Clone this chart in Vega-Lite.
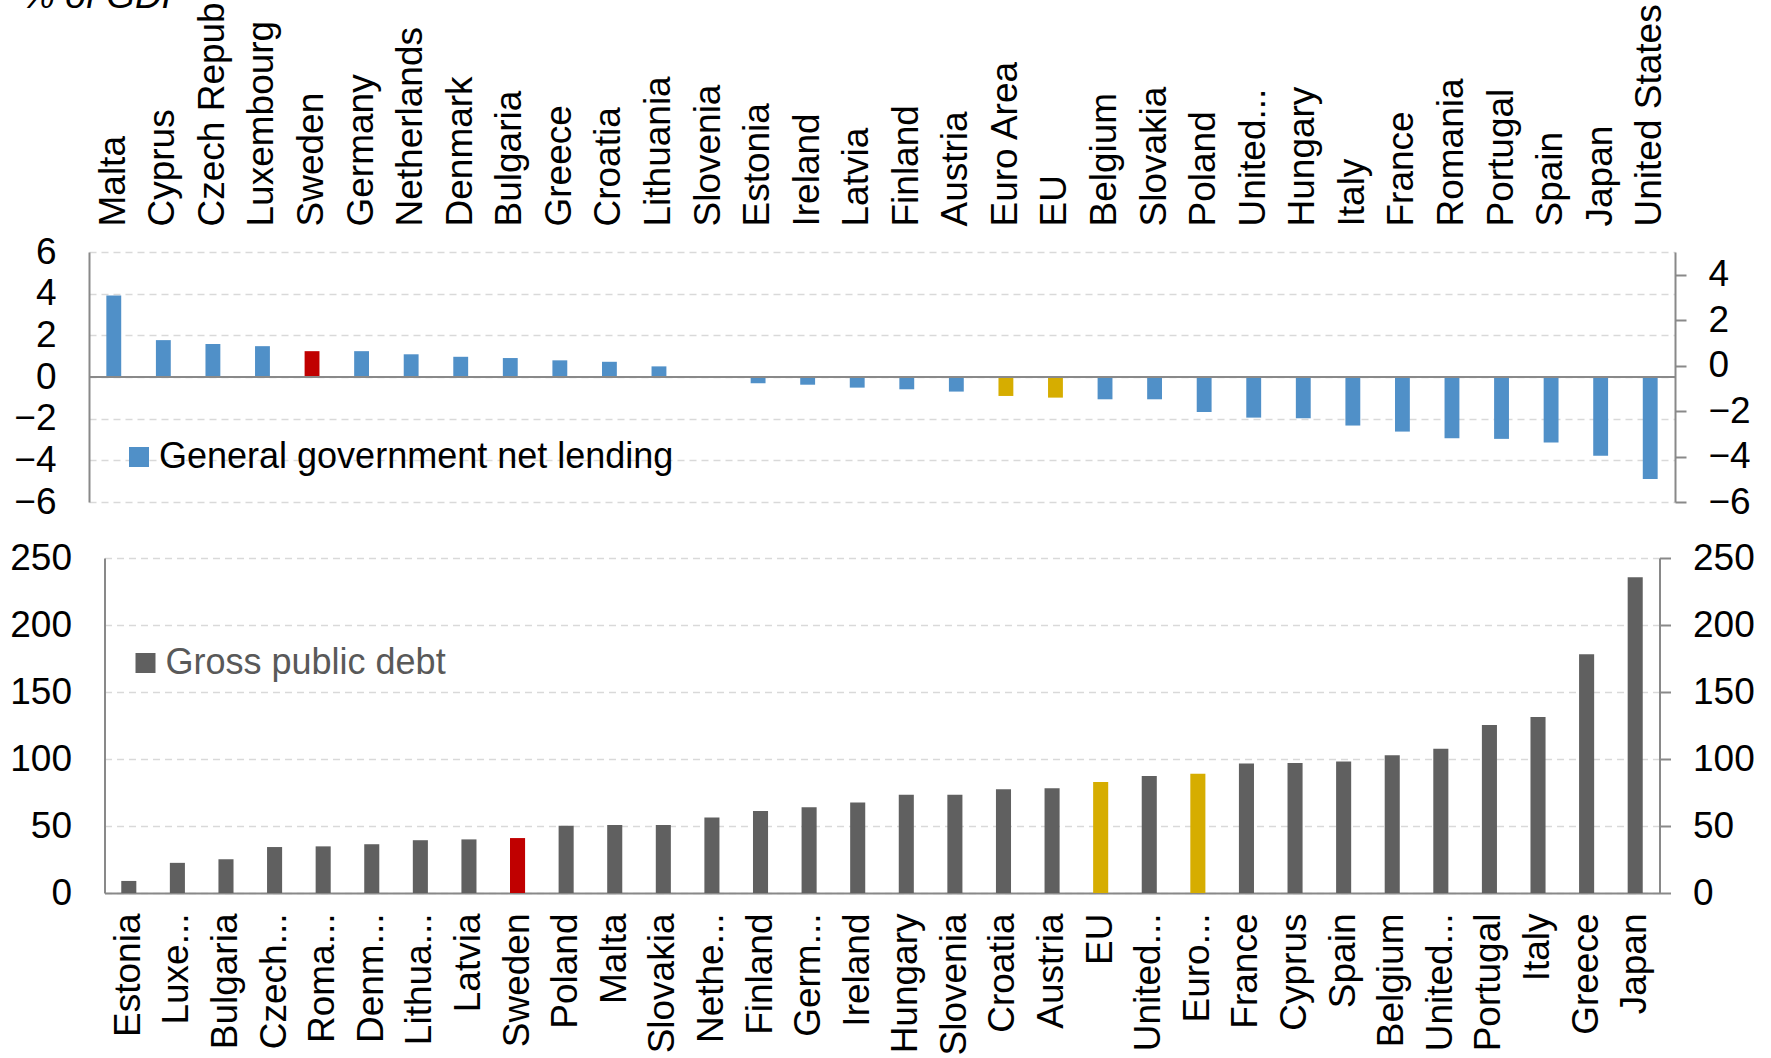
{
  "$schema": "https://vega.github.io/schema/vega-lite/v6.json",
  "autosize": {"type": "none"},
  "padding": {"left": 89, "top": 252, "right": 1682, "bottom": 806},
  "config": {
    "font": "Liberation Sans",
    "view": {"stroke": null},
    "axis": {
      "labelFont": "Liberation Sans",
      "labelFontSize": 37,
      "labelColor": "#000000",
      "domainColor": "#898989",
      "domainWidth": 2,
      "tickColor": "#898989",
      "tickWidth": 2,
      "gridColor": "#D9D9D9",
      "gridDash": [7, 5],
      "gridWidth": 1.5,
      "labelOverlap": false,
      "labelBound": false,
      "title": null
    },
    "legend": {
      "labelFont": "Liberation Sans",
      "labelFontSize": 36,
      "symbolType": "square",
      "symbolSize": 400,
      "symbolStrokeWidth": 0,
      "symbolOpacity": 1,
      "labelOffset": 2,
      "padding": 0,
      "labelLimit": 800
    }
  },
  "title": {
    "text": "% of GDP",
    "fontStyle": "italic",
    "fontWeight": "normal",
    "fontSize": 37,
    "font": "Liberation Sans",
    "color": "#000000",
    "anchor": "start",
    "frame": "group",
    "orient": "top",
    "offset": 0,
    "baseline": "alphabetic",
    "dx": -67,
    "dy": 78
  },
  "datasets": {
    "lending": [
      {"country": "Malta", "nl": 3.91, "s": "General government net lending"},
      {"country": "Cyprus", "nl": 1.77, "s": "General government net lending"},
      {"country": "Czech Republic", "nl": 1.58, "s": "General government net lending"},
      {"country": "Luxembourg", "nl": 1.48, "s": "General government net lending"},
      {"country": "Sweden", "nl": 1.24, "s": "Sweden"},
      {"country": "Germany", "nl": 1.24, "s": "General government net lending"},
      {"country": "Netherlands", "nl": 1.09, "s": "General government net lending"},
      {"country": "Denmark", "nl": 0.97, "s": "General government net lending"},
      {"country": "Bulgaria", "nl": 0.91, "s": "General government net lending"},
      {"country": "Greece", "nl": 0.8, "s": "General government net lending"},
      {"country": "Croatia", "nl": 0.73, "s": "General government net lending"},
      {"country": "Lithuania", "nl": 0.51, "s": "General government net lending"},
      {"country": "Slovenia", "nl": 0.0, "s": "General government net lending"},
      {"country": "Estonia", "nl": -0.3, "s": "General government net lending"},
      {"country": "Ireland", "nl": -0.37, "s": "General government net lending"},
      {"country": "Latvia", "nl": -0.51, "s": "General government net lending"},
      {"country": "Finland", "nl": -0.59, "s": "General government net lending"},
      {"country": "Austria", "nl": -0.7, "s": "General government net lending"},
      {"country": "Euro Area", "nl": -0.91, "s": "EU"},
      {"country": "EU", "nl": -0.99, "s": "EU"},
      {"country": "Belgium", "nl": -1.07, "s": "General government net lending"},
      {"country": "Slovakia", "nl": -1.07, "s": "General government net lending"},
      {"country": "Poland", "nl": -1.68, "s": "General government net lending"},
      {"country": "United Kingdom", "nl": -1.95, "s": "General government net lending"},
      {"country": "Hungary", "nl": -1.98, "s": "General government net lending"},
      {"country": "Italy", "nl": -2.33, "s": "General government net lending"},
      {"country": "France", "nl": -2.62, "s": "General government net lending"},
      {"country": "Romania", "nl": -2.94, "s": "General government net lending"},
      {"country": "Portugal", "nl": -2.97, "s": "General government net lending"},
      {"country": "Spain", "nl": -3.14, "s": "General government net lending"},
      {"country": "Japan", "nl": -3.78, "s": "General government net lending"},
      {"country": "United States", "nl": -4.9, "s": "General government net lending"}
    ],
    "debt": [
      {"country": "Estonia", "debt": 9.0, "s": "Gross public debt"},
      {"country": "Luxembourg", "debt": 22.5, "s": "Gross public debt"},
      {"country": "Bulgaria", "debt": 25.1, "s": "Gross public debt"},
      {"country": "Czech Republic", "debt": 34.3, "s": "Gross public debt"},
      {"country": "Romania", "debt": 34.8, "s": "Gross public debt"},
      {"country": "Denmark", "debt": 36.4, "s": "Gross public debt"},
      {"country": "Lithuania", "debt": 39.4, "s": "Gross public debt"},
      {"country": "Latvia", "debt": 40.0, "s": "Gross public debt"},
      {"country": "Sweden", "debt": 41.0, "s": "Sweden"},
      {"country": "Poland", "debt": 50.2, "s": "Gross public debt"},
      {"country": "Malta", "debt": 50.7, "s": "Gross public debt"},
      {"country": "Slovakia", "debt": 50.7, "s": "Gross public debt"},
      {"country": "Netherlands", "debt": 56.4, "s": "Gross public debt"},
      {"country": "Finland", "debt": 61.2, "s": "Gross public debt"},
      {"country": "Germany", "debt": 64.0, "s": "Gross public debt"},
      {"country": "Ireland", "debt": 67.6, "s": "Gross public debt"},
      {"country": "Hungary", "debt": 73.4, "s": "Gross public debt"},
      {"country": "Slovenia", "debt": 73.4, "s": "Gross public debt"},
      {"country": "Croatia", "debt": 77.5, "s": "Gross public debt"},
      {"country": "Austria", "debt": 78.2, "s": "Gross public debt"},
      {"country": "EU", "debt": 82.8, "s": "EU"},
      {"country": "United Kingdom", "debt": 87.4, "s": "Gross public debt"},
      {"country": "Euro Area", "debt": 89.0, "s": "EU"},
      {"country": "France", "debt": 96.6, "s": "Gross public debt"},
      {"country": "Cyprus", "debt": 97.1, "s": "Gross public debt"},
      {"country": "Spain", "debt": 98.2, "s": "Gross public debt"},
      {"country": "Belgium", "debt": 102.8, "s": "Gross public debt"},
      {"country": "United States", "debt": 107.6, "s": "Gross public debt"},
      {"country": "Portugal", "debt": 125.3, "s": "Gross public debt"},
      {"country": "Italy", "debt": 131.4, "s": "Gross public debt"},
      {"country": "Greece", "debt": 178.2, "s": "Gross public debt"},
      {"country": "Japan", "debt": 235.7, "s": "Gross public debt"}
    ]
  },
  "spacing": 56,
  "bounds": "flush",
  "center": true,
  "resolve": {
    "scale": {"color": "independent", "x": "independent", "y": "independent"},
    "legend": {"color": "independent"},
    "axis": {"x": "independent", "y": "independent"}
  },
  "vconcat": [
    {
      "width": 1586,
      "height": 250,
      "data": {"name": "lending"},
      "layer": [
        {
          "layer": [
            {
              "mark": {"type": "bar"},
              "encoding": {
                "x": {
                  "field": "country", "type": "nominal", "sort": null,
                  "scale": {"paddingInner": 0.7, "paddingOuter": 0.35},
                  "axis": {
                    "orient": "top", "labelAngle": -90, "labelPadding": 26,
                    "ticks": false, "tickSize": 0, "domain": false, "labelLimit": 600,
                    "labelExpr": "datum.value == 'United Kingdom' ? 'United...' : datum.value"
                  }
                },
                "y": {
                  "field": "nl", "type": "quantitative",
                  "scale": {"domain": [-6, 6], "nice": false, "zero": false},
                  "axis": {"values": [-6, -4, -2, 0, 2, 4, 6], "ticks": false, "tickSize": 0, "labelPadding": 33, "grid": true, "domain": true}
                },
                "color": {
                  "field": "s", "type": "nominal",
                  "scale": {"domain": ["General government net lending", "Sweden", "EU"], "range": ["#5090C8", "#C00000", "#D6AD00"]},
                  "legend": {"title": null, "values": ["General government net lending"], "orient": "none", "legendX": 32, "legendY": 187, "labelColor": "#000000"}
                }
              }
            },
            {
              "mark": {"type": "rule", "color": "#898989", "strokeWidth": 2},
              "encoding": {"y": {"datum": 0, "type": "quantitative"}}
            }
          ]
        },
        {
          "mark": {"type": "rule", "strokeOpacity": 0},
          "encoding": {
            "y": {
              "field": "nl", "type": "quantitative",
              "scale": {"domain": [-6, 5], "nice": false, "zero": false},
              "axis": {"orient": "right", "values": [-6, -4, -2, 0, 2, 4], "ticks": true, "tickSize": 11, "labelPadding": 22, "grid": false, "domain": true}
            }
          }
        }
      ],
      "resolve": {"scale": {"y": "independent"}}
    },
    {
      "width": 1555,
      "height": 335,
      "data": {"name": "debt"},
      "layer": [
        {
          "mark": {"type": "bar"},
          "encoding": {
            "x": {
              "field": "country", "type": "nominal", "sort": null,
              "scale": {"paddingInner": 0.69, "paddingOuter": 0.345},
              "axis": {
                "orient": "bottom", "labelAngle": -90, "labelPadding": 20,
                "ticks": false, "tickSize": 0, "domain": true, "labelLimit": 600,
                "labelExpr": "datum.value=='Luxembourg'?'Luxe...':datum.value=='Czech Republic'?'Czech...':datum.value=='Romania'?'Roma...':datum.value=='Denmark'?'Denm...':datum.value=='Lithuania'?'Lithua...':datum.value=='Netherlands'?'Nethe...':datum.value=='Germany'?'Germ...':datum.value=='United Kingdom'?'United...':datum.value=='United States'?'United...':datum.value=='Euro Area'?'Euro...':datum.value"
              }
            },
            "y": {
              "field": "debt", "type": "quantitative",
              "scale": {"domain": [0, 250], "nice": false},
              "axis": {"values": [0, 50, 100, 150, 200, 250], "ticks": false, "tickSize": 0, "labelPadding": 33, "grid": true, "domain": true}
            },
            "color": {
              "field": "s", "type": "nominal",
              "scale": {"domain": ["Gross public debt", "Sweden", "EU"], "range": ["#606060", "#C00000", "#D6AD00"]},
              "legend": {"title": null, "values": ["Gross public debt"], "orient": "none", "legendX": 23, "legendY": 87, "labelColor": "#595959"}
            }
          }
        },
        {
          "mark": {"type": "rule", "strokeOpacity": 0},
          "encoding": {
            "y": {
              "field": "debt", "type": "quantitative",
              "scale": {"domain": [0, 250], "nice": false},
              "axis": {"orient": "right", "values": [0, 50, 100, 150, 200, 250], "ticks": true, "tickSize": 11, "labelPadding": 22, "grid": false, "domain": true}
            }
          }
        }
      ],
      "resolve": {"scale": {"y": "independent"}}
    }
  ]
}
